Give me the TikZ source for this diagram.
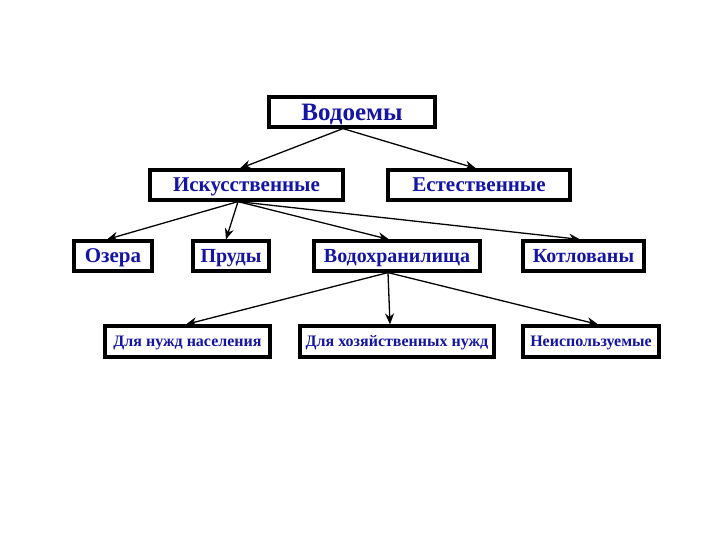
\documentclass[tikz,border=0pt]{standalone}
\usepackage{fontspec}
\setmainfont{Liberation Serif}
\usetikzlibrary{arrows.meta}
\definecolor{txtblue}{RGB}{20,20,165}
\tikzset{
  box/.style={draw=black, line width=3.2pt, fill=white, text=txtblue, inner sep=0pt,
    minimum height=30pt, text height=17pt, text depth=3.8pt,
    font=\fontsize{20}{24}\selectfont\bfseries},
  midbox/.style={box, text height=18pt, text depth=4.1pt, font=\fontsize{21}{24}\selectfont\bfseries},
  bigbox/.style={box, text height=21pt, text depth=4.5pt, font=\fontsize{25}{28}\selectfont\bfseries},
  lowbox/.style={box, minimum height=31pt, text height=14pt, text depth=3.4pt,
    font=\fontsize{16}{19}\selectfont\bfseries},
  conn/.style={line width=1.3pt, -{Stealth[length=11pt,width=9pt]}}
}
\begin{document}
\begin{tikzpicture}[x=1pt,y=-1pt]
\useasboundingbox[fill=white] (0,0) rectangle (720,540);
\node[bigbox, minimum width=166pt] (top) at (352,112) {Водоемы};
\node[midbox, minimum width=193pt] (art) at (246.5,185) {Искусственные};
\node[midbox, minimum width=182pt] (nat) at (479,185) {Естественные};
\node[midbox, minimum width=78pt] (oz) at (113,256) {Озера};
\node[box, minimum width=76pt] (pr) at (231,256) {Пруды};
\node[box, minimum width=166pt] (vod) at (397,256) {Водохранилища};
\node[box, minimum width=121pt] (kot) at (583.5,256) {Котлованы};
\node[lowbox, minimum width=165pt] (l1) at (187.5,341.5) {Для нужд населения};
\node[lowbox, minimum width=194pt] (l2) at (397,341.5) {Для хозяйственных нужд};
\node[lowbox, minimum width=136pt] (l3) at (591,341.5) {Неиспользуемые};
\draw[conn] ([xshift=-9pt]top.south) -- ([xshift=-6.5pt]art.north);
\draw[conn] ([xshift=-9pt]top.south) -- ([xshift=-3pt]nat.north);
\draw[conn] ([xshift=-8.5pt]art.south) -- ([xshift=-6pt]oz.north);
\draw[conn] ([xshift=-8.5pt]art.south) -- ([xshift=-5pt]pr.north);
\draw[conn] ([xshift=-8.5pt]art.south) -- ([xshift=-8pt]vod.north);
\draw[conn] ([xshift=-8.5pt]art.south) -- ([xshift=-3.5pt]kot.north);
\draw[conn] ([xshift=-9pt]vod.south) -- ([xshift=-1.5pt]l1.north);
\draw[conn] ([xshift=-9pt]vod.south) -- ([xshift=-7pt]l2.north);
\draw[conn] ([xshift=-9pt]vod.south) -- ([xshift=7pt]l3.north);
\end{tikzpicture}
\end{document}
